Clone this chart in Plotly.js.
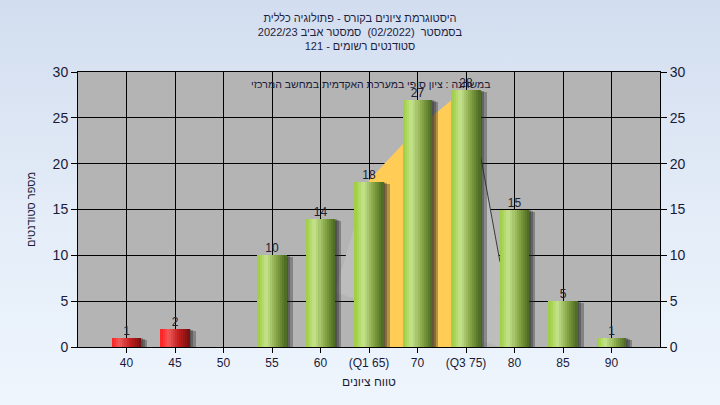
<!DOCTYPE html>
<html>
<head>
<meta charset="utf-8">
<script src="https://cdn.plot.ly/plotly-3.0.1.min.js"></script>
<style>
html,body{margin:0;padding:0;}
#chart{width:720px;height:405px;background:linear-gradient(to bottom,#d2ddef 0%,#e4edf8 55%,#eef5fd 100%);}
</style>
</head>
<body>
<div id="chart"></div>
<script>
// ---- data ----
const categories = ['40','45','50','55','60','(Q1 65)','70','(Q3 75)','80','85','90'];
const counts     = [1, 2, 0, 10, 14, 18, 27, 28, 15, 5, 1];
const failing    = [true, true, true, false, false, false, false, false, false, false, false];

// background distribution area (x in category positions, y in students)
const areaX = [4.3, 4.72, 5.0,  5.71, 6.33, 6.72, 7.0, 7.33, 7.7, 7.7];
const areaY = [6,   13.5, 18.2, 22.2, 25.3, 27,   28,  20,   9.3, 0];
// inter-quartile (Q1..Q3) band
const iqrX  = [5.0,  5.71, 6.33, 6.72, 7.0];
const iqrY  = [18.2, 22.2, 25.3, 27,   28];
// outline visible on the falling side of the area
const edgeX = [7.0, 7.33, 7.7];
const edgeY = [28,  20,   9.3];

const titleLines = ['היסטוגרמת ציונים בקורס - פתולוגיה כללית',
                    'בסמסטר  (02/2022)  סמסטר אביב 2022/23',
                    'סטודנטים רשומים - 121'];
const noteText  = 'במשתנה : ציון סופי במערכת האקדמית במחשב המרכזי';
const xTitle    = 'טווח ציונים';
const yTitle    = 'מספר סטודנטים';

// ---- helpers ----
const RLE = '\u202B', PDF = '\u202C';
const rtl = s => RLE + s + PDF;
const pos = categories.map((c, i) => i);

function mix(a, b, t) {
  const pa = [1,3,5].map(k => parseInt(a.substr(k,2),16));
  const pb = [1,3,5].map(k => parseInt(b.substr(k,2),16));
  return 'rgb(' + pa.map((v,j) => Math.round(v + (pb[j]-v)*t)).join(',') + ')';
}
function grad(stops, t) {
  for (let i = 0; i < stops.length - 1; i++) {
    if (t <= stops[i+1][0]) {
      const u = (t - stops[i][0]) / (stops[i+1][0] - stops[i][0]);
      return mix(stops[i][1], stops[i+1][1], u);
    }
  }
  return stops[stops.length-1][1];
}
const greenStops = [[0,'#9ccc3e'],[0.3,'#c6e38e'],[0.65,'#86a646'],[1,'#4a6820']];
const redStops   = [[0,'#ff2020'],[0.28,'#f05a5a'],[0.6,'#c42020'],[1,'#761010']];

const BAR_W = 0.6, N = 14;
const traces = [];

// distribution area + IQR band (base subplot, drawn underneath the bars)
traces.push({type:'scatter', x: areaX, y: areaY.slice(0, -1).concat([0]), mode:'lines', fill:'toself',
  fillcolor:'#bdbdbd', line:{color:'rgba(0,0,0,0)', width:0}, hoverinfo:'skip', showlegend:false,
  xaxis:'x', yaxis:'y'});
traces.push({type:'scatter', x: iqrX.concat([iqrX[iqrX.length-1], iqrX[0]]),
  y: iqrY.concat([0,0]), mode:'lines', fill:'toself',
  fillcolor:'#ffcc55', line:{width:0, color:'rgba(0,0,0,0)'}, hoverinfo:'skip', showlegend:false,
  xaxis:'x', yaxis:'y'});
traces.push({type:'scatter', x: edgeX, y: edgeY, mode:'lines',
  line:{color:'#3a3a3a', width:1}, hoverinfo:'skip', showlegend:false, xaxis:'x', yaxis:'y'});

// soft shadows
[[0.13, 0.22, 0.35],[0.08, 0.12, 0.35],[0.04, 0.05, 0.3]].forEach(s => {
  traces.push({type:'bar', x: pos, y: counts.map(v => v > 0 ? v - s[1] : 0),
    width: BAR_W, offset: -BAR_W/2 + s[0],
    marker:{color:'rgba(40,40,40,' + s[2] + ')', line:{width:0}},
    hoverinfo:'skip', showlegend:false, xaxis:'x2', yaxis:'y2'});
});

// gradient bars built from vertical strips
for (let i = 0; i < N; i++) {
  const t = (i + 0.5) / N;
  traces.push({type:'bar', x: pos, y: counts,
    width: BAR_W / N + 0.002, offset: -BAR_W/2 + i * BAR_W / N,
    marker:{color: failing.map(f => grad(f ? redStops : greenStops, t)), line:{width:0}},
    hoverinfo:'skip', showlegend:false, xaxis:'x2', yaxis:'y2'});
}

// value labels
traces.push({type:'scatter', mode:'text', x: pos, y: counts,
  text: counts.map(v => v > 0 ? String(v) : ''), textposition:'top center',
  textfont:{family:'Liberation Sans, Arial, sans-serif', size:12, color:'#202030'},
  hoverinfo:'skip', showlegend:false, xaxis:'x2', yaxis:'y2'});

const font = {family:'Liberation Sans, Arial, sans-serif', color:'#1a1a38'};
const layout = {
  width:720, height:405,
  paper_bgcolor:'rgba(0,0,0,0)', plot_bgcolor:'#b4b4b4',
  margin:{l:78, r:60, t:72, b:58},
  barmode:'overlay', bargap:0,
  font: font,
  title:{text: titleLines.map(rtl).join('<br>'), x:0.5, xanchor:'center',
         y:0.946, yanchor:'top', font:{family:font.family, size:11, color:'#1e1e40'}},
  xaxis:{range:[-1, 11], tickmode:'array', tickvals: pos, ticktext: categories,
    showgrid:true, gridcolor:'#000', gridwidth:1, zeroline:false,
    ticks:'outside', ticklen:5, tickcolor:'#000',
    showline:true, mirror:true, linecolor:'#000', linewidth:1,
    tickfont:{family:font.family, size:12, color:'#1a1a38'},
    title:{text: rtl(xTitle), standoff:8, font:{family:font.family, size:12, color:'#1a1a38'}}},
  xaxis2:{range:[-1, 11], overlaying:'x', visible:false},
  yaxis:{range:[0, 30], dtick:5, tick0:0,
    showgrid:true, gridcolor:'#000', gridwidth:1, zeroline:false,
    ticks:'outside', ticklen:6, tickcolor:'#000',
    showline:true, mirror:true, linecolor:'#000', linewidth:1,
    tickfont:{family:font.family, size:14, color:'#1a1a38'},
    title:{text: rtl(yTitle), standoff:14, font:{family:font.family, size:11, color:'#1a1a38'}}},
  yaxis2:{range:[0, 30], dtick:5, tick0:0, overlaying:'y', side:'right',
    showgrid:false, zeroline:false, ticks:'outside', ticklen:6, tickcolor:'#000',
    showline:false,
    tickfont:{family:font.family, size:14, color:'#1a1a38'}},
  annotations:[{text: rtl(noteText), xref:'paper', yref:'paper', x:0.502, y:0.955,
    xanchor:'center', yanchor:'middle',
    showarrow:false, font:{family:font.family, size:10.5, color:'#1a1a38'}}]
};

Plotly.newPlot('chart', traces, layout, {displayModeBar:false, staticPlot:true});
</script>
</body>
</html>
